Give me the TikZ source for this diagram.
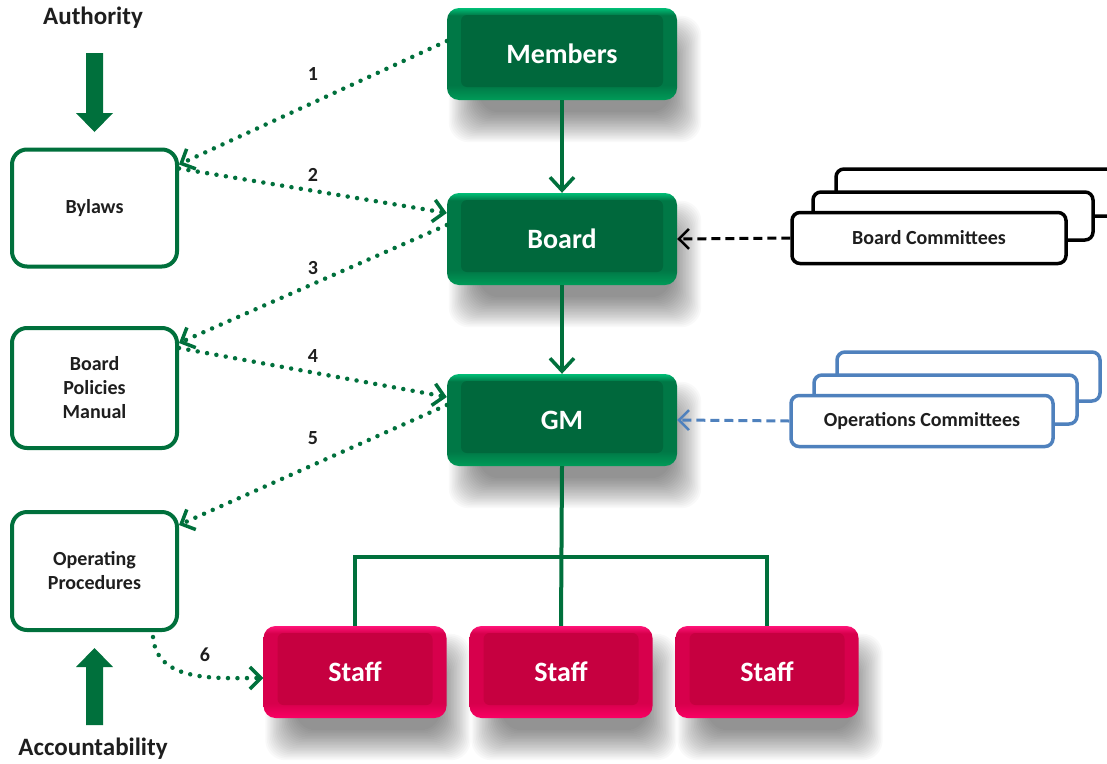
\documentclass[tikz,border=0pt]{standalone}
\usepackage{fontspec}
\setmainfont{Carlito}
\usetikzlibrary{arrows.meta,calc}
\pgfdeclarelayer{bg}
\pgfsetlayers{bg,main}
\definecolor{gline}{RGB}{0,112,60}
\definecolor{gface}{RGB}{0,104,60}
\definecolor{gside}{RGB}{0,120,70}
\definecolor{gtop}{RGB}{0,190,118}
\definecolor{gbot}{RGB}{0,155,88}
\definecolor{pface}{RGB}{198,0,64}
\definecolor{pside}{RGB}{215,0,76}
\definecolor{ptop}{RGB}{255,20,120}
\definecolor{pbot}{RGB}{250,0,100}
\definecolor{opsblue}{RGB}{79,129,189}
\definecolor{txt}{RGB}{30,30,30}
\pgfdeclareverticalshading{gshade}{100bp}{color(0bp)=(gbot); color(25bp)=(gbot); color(33bp)=(gside); color(71bp)=(gside); color(75bp)=(gtop); color(100bp)=(gtop)}
\pgfdeclareverticalshading{pshade}{100bp}{color(0bp)=(pbot); color(25bp)=(pbot); color(33bp)=(pside); color(71bp)=(pside); color(75bp)=(ptop); color(100bp)=(ptop)}
\tikzset{
  bevel/.style={path picture={\fill[#1, rounded corners=6pt] ([shift={(14pt,13pt)}]path picture bounding box.south west) rectangle ([shift={(-14pt,-7pt)}]path picture bounding box.north east);}},
  gbox/.style={rounded corners=12pt, minimum width=230pt, minimum height=92pt, shading=gshade, bevel=gface, text=white, font=\bfseries\fontsize{28}{32}\selectfont},
  pbox/.style={rounded corners=12pt, minimum width=183pt, minimum height=92pt, shading=pshade, bevel=pface, text=white, font=\bfseries\fontsize{28}{32}\selectfont},
  wbox/.style={draw=gline, line width=4pt, rounded corners=15pt, fill=white, minimum width=165pt, align=center, text=txt, font=\bfseries\fontsize{20}{24}\selectfont},
  cbox/.style={draw=black, line width=3.5pt, rounded corners=8pt, fill=white},
  obox/.style={draw=opsblue, line width=3.5pt, rounded corners=8pt, fill=white},
  ctext/.style={text=txt, font=\bfseries\fontsize{20}{22}\selectfont},
  solidarrow/.style={gline, line width=4pt, -{Straight Barb[length=13pt,width=24pt,line width=3.5pt]}},
  gdot/.style={gline, line width=4.5pt, line cap=round, dash pattern=on 0pt off 9.5pt, -{Straight Barb[length=11pt,width=22pt,line width=3.5pt]}},
  cdash/.style={line width=3pt, dash pattern=on 9pt off 5pt, -{Straight Barb[length=10pt,width=20pt,line width=2.5pt]}},
  numlbl/.style={text=txt, font=\bfseries\fontsize{20}{22}\selectfont},
  biglbl/.style={text=txt, font=\bfseries\fontsize{25}{28}\selectfont},
  bigarrow/.style={fill=gline},
  shadowlayer/.style={black, opacity=0.024, rounded corners=20pt}
}
\newcommand\softshade[1]{%
  \begin{pgfonlayer}{bg}
  \foreach \s in {-16,-14.5,...,15} {
    \fill[shadowlayer] ([shift={(16pt-\s pt,-28pt-\s pt)}]#1.south west) rectangle ([shift={(10pt+\s pt,-22pt+\s pt)}]#1.north east);
  }
  \end{pgfonlayer}}
\begin{document}
\begin{tikzpicture}[x=1pt,y=-1pt]
\clip (0,0) rectangle (1107,763);
\begin{pgfonlayer}{bg}
\fill[white] (0,0) rectangle (1107,763);
\end{pgfonlayer}

% left labels and big arrows
\node[biglbl] (authority) at (93,18) {Authority};
\node[biglbl] (accountability) at (93,749) {Accountability};
\fill[bigarrow] (86,53) -- (103,53) -- (103,113) -- (113,113) -- (94.5,132) -- (76,113) -- (86,113) -- cycle;
\fill[bigarrow] (86,725) -- (103,725) -- (103,667) -- (113,667) -- (94.5,648) -- (76,667) -- (86,667) -- cycle;

% left document boxes
\node[wbox, minimum height=117pt] (bylaws) at (94.5,208) {Bylaws};
\node[wbox, minimum height=120pt] (policies) at (94.5,388) {Board\\Policies\\Manual};
\node[wbox, minimum height=118pt] (opproc) at (94.5,571) {Operating\\Procedures};

% committees stacks
\draw[cbox] (836,169) rectangle (1140,216);
\draw[cbox] (813,192) rectangle (1093,240);
\node[cbox, ctext, minimum width=274pt, minimum height=51pt] (bc) at (929,238) {Board Committees};
\draw[obox] (837,352) rectangle (1100,401);
\draw[obox] (814,375) rectangle (1077,424);
\node[obox, ctext, minimum width=262pt, minimum height=51pt] (oc) at (922,421) {Operations Committees};

% main chain
\node[gbox] (members) at (562,54) {Members};
\node[gbox] (board) at (562,239) {Board};
\node[gbox] (gm) at (562,420) {GM};
\node[pbox] (staff1) at (355,672) {Staff};
\node[pbox] (staff2) at (561,672) {Staff};
\node[pbox] (staff3) at (767,672) {Staff};
\softshade{members}
\softshade{board}
\softshade{gm}
\softshade{staff1}
\softshade{staff2}
\softshade{staff3}
\coordinate (bus) at (562,557);

\draw[solidarrow] (members.south) -- (board.north);
\draw[solidarrow] (board.south) -- (gm.north);
\draw[gline, line width=4pt] (gm.south) -- (staff2.north);
\draw[gline, line width=4pt] (staff1.north) -- (staff1.north |- bus) -- (staff3.north |- bus) -- (staff3.north);

% committees arrows
\draw[cdash, black] (bc.west) -- (board.east);
\draw[cdash, opsblue] (oc.west) -- (gm.east);

% dotted connectors
\draw[gdot] ([yshift=13pt]members.west) -- ([yshift=-17pt]bylaws.north east);
\draw[gdot] ([yshift=-21pt]bylaws.north east) -- ([yshift=26pt]board.west);
\draw[gdot] ([yshift=14pt]board.west) -- ([yshift=-17pt]policies.north east);
\draw[gdot] ([yshift=-22pt]policies.north east) -- ([yshift=23pt]gm.west);
\draw[gdot] ([yshift=15pt]gm.west) -- ([yshift=-15pt]opproc.north east);
\draw[gdot] ([xshift=-26pt,yshift=-5pt]opproc.south east) to[out=-85,in=180] ([yshift=-6pt]staff1.west);

\node[numlbl] (n1) at (313,74) {1};
\node[numlbl] (n2) at (313,175) {2};
\node[numlbl] (n3) at (313,268) {3};
\node[numlbl] (n4) at (313,356) {4};
\node[numlbl] (n5) at (313,438) {5};
\node[numlbl] (n6) at (205,655) {6};
\end{tikzpicture}
\end{document}
